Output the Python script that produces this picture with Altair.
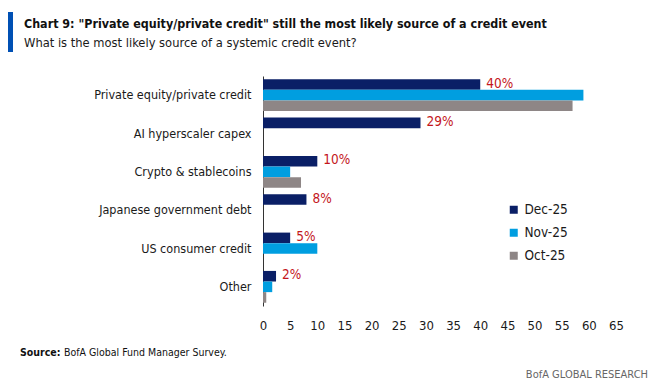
import altair as alt
import pandas as pd

categories = [
    "Private equity/private credit",
    "AI hyperscaler capex",
    "Crypto & stablecoins",
    "Japanese government debt",
    "US consumer credit",
    "Other",
]
series = ["Dec-25", "Nov-25", "Oct-25"]
dec_values = [40, 29, 10, 8, 5, 2.4]
nov_values = [59, None, 5, None, 10, 1.7]
oct_values = [57, None, 7, None, None, 0.6]
dec_labels = ["40%", "29%", "10%", "8%", "5%", "2%"]
x_ticks = list(range(0, 70, 5))

colors = ["#0A1F66", "#009EE0", "#8E8686"]
label_red = "#C4161C"
FONT = "Liberation Sans Narrow, DejaVu Sans Condensed, Roboto Condensed, Arial Narrow, sans-serif"

rows = []
for s, vals in zip(series, [dec_values, nov_values, oct_values]):
    for c, v in zip(categories, vals):
        if v is not None:
            rows.append({"category": c, "series": s, "value": v})
df = pd.DataFrame(rows)
lab_df = pd.DataFrame({"category": categories, "value": dec_values, "label": dec_labels, "series": "Dec-25"})

W, H = 353, 230

y_axis = alt.Axis(title=None, ticks=False, domain=True, domainColor="#333333",
                  labelFont=FONT, labelFontSize=12.5, labelColor="#1a1a1a",
                  labelPadding=12, labelLimit=250)
x_axis = alt.Axis(title=None, values=x_ticks, tickCount=14, ticks=False, domain=False, grid=False,
                  labelFont=FONT, labelFontSize=13, labelColor="#1a1a1a",
                  labelPadding=13, labelFlush=False, labelOverlap=False)
y_scale = alt.Scale(domain=categories, paddingInner=0.17, paddingOuter=0.085)
x_scale = alt.Scale(domain=[0, 65], nice=False)

bars = alt.Chart(df).mark_bar().encode(
    y=alt.Y("category:N", sort=categories, scale=y_scale, axis=y_axis),
    x=alt.X("value:Q", scale=x_scale, axis=x_axis),
    yOffset=alt.YOffset("series:N", scale=alt.Scale(domain=series, paddingInner=0, paddingOuter=0)),
    color=alt.Color("series:N", scale=alt.Scale(domain=series, range=colors),
                    legend=alt.Legend(title=None, orient="none", legendX=244, legendY=127,
                                      symbolType="square", symbolSize=64, symbolStrokeWidth=0,
                                      labelFont=FONT, labelFontSize=13.5, labelColor="#1a1a1a",
                                      rowPadding=8, labelOffset=4)),
)

labels = alt.Chart(lab_df).mark_text(align="left", baseline="middle", dx=6, dy=-1,
                                     font=FONT, fontSize=13.5, color=label_red).encode(
    y=alt.Y("category:N", sort=categories, scale=y_scale, axis=y_axis),
    yOffset=alt.YOffset("series:N", scale=alt.Scale(domain=series, paddingInner=0, paddingOuter=0)),
    x=alt.X("value:Q", scale=x_scale, axis=x_axis),
    text="label:N",
)

one = pd.DataFrame({"k": [0]})
accent = alt.Chart(one).mark_rect(color="#0050B4").encode(
    x=alt.value(-255), x2=alt.value(-250), y=alt.value(-64), y2=alt.value(-24))
title = alt.Chart(one).mark_text(text='Chart 9: "Private equity/private credit" still the most likely source of a credit event',
                                 align="left", baseline="middle", font=FONT, fontSize=12.4,
                                 fontWeight="bold", color="#111111").encode(
    x=alt.value(-239), y=alt.value(-52))
subtitle = alt.Chart(one).mark_text(text="What is the most likely source of a systemic credit event?",
                                    align="left", baseline="middle", font=FONT, fontSize=12.8,
                                    color="#1a1a1a").encode(
    x=alt.value(-239), y=alt.value(-33))
src_b = alt.Chart(one).mark_text(text="Source:", align="left", baseline="middle", font=FONT,
                                 fontSize=10.5, fontWeight="bold", color="#111111").encode(
    x=alt.value(-243), y=alt.value(277))
src = alt.Chart(one).mark_text(text="BofA Global Fund Manager Survey.", align="left", baseline="middle",
                               font=FONT, fontSize=10.5, color="#111111").encode(
    x=alt.value(-199), y=alt.value(277))
brand = alt.Chart(one).mark_text(text="BofA GLOBAL RESEARCH", align="right", baseline="middle",
                                 font=FONT, fontSize=11, color="#666666").encode(
    x=alt.value(385), y=alt.value(299))

chart = alt.layer(bars, labels, accent, title, subtitle, src_b, src, brand).resolve_scale(
    yOffset="shared"
).properties(
    width=W, height=H,
    autosize=alt.AutoSizeParams(type="none"),
    padding={"left": 255, "top": 68, "right": 34, "bottom": 74},
).configure_view(stroke=None)

chart.save("out.html", embed_options={"renderer": "svg", "actions": False})
